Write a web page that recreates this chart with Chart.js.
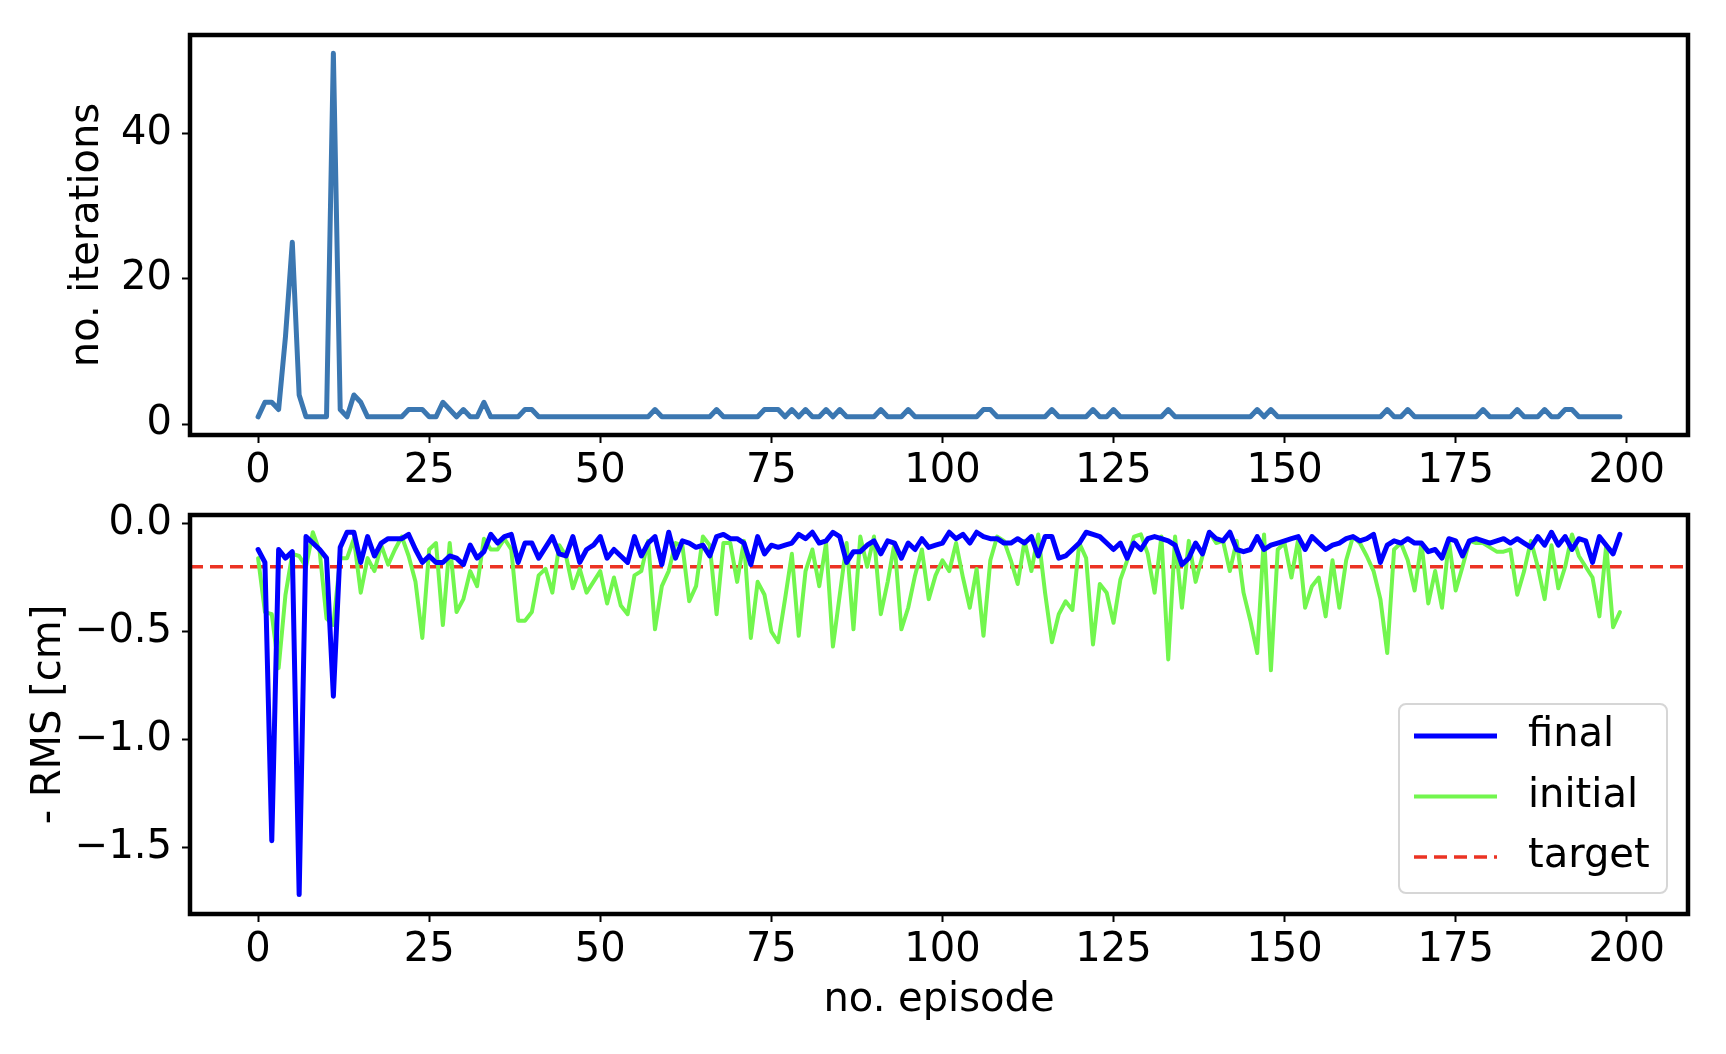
<!DOCTYPE html>
<html>
<head>
<meta charset="utf-8">
<script src="https://cdn.jsdelivr.net/npm/chart.js@4.4.1/dist/chart.umd.min.js"></script>
<style>
  html, body { margin: 0; padding: 0; background: #fff; }
  #wrap { position: relative; width: 1726px; height: 1054px; }
  canvas { position: absolute; left: 0; }
  #topChart { top: 0; }
  #rmsChart { top: 465px; }
</style>
</head>
<body>
<div id="wrap">
  <canvas id="topChart" width="1726" height="495"></canvas>
  <canvas id="rmsChart" width="1726" height="589"></canvas>
</div>
<script>
// episodes 0..199
const episodes = Array.from({ length: 200 }, (_, i) => i);

const iterations = [
  1, 3, 3, 2, 12, 25, 4, 1, 1, 1,
  1, 51, 2, 1, 4, 3, 1, 1, 1, 1,
  1, 1, 2, 2, 2, 1, 1, 3, 2, 1,
  2, 1, 1, 3, 1, 1, 1, 1, 1, 2,
  2, 1, 1, 1, 1, 1, 1, 1, 1, 1,
  1, 1, 1, 1, 1, 1, 1, 1, 2, 1,
  1, 1, 1, 1, 1, 1, 1, 2, 1, 1,
  1, 1, 1, 1, 2, 2, 2, 1, 2, 1,
  2, 1, 1, 2, 1, 2, 1, 1, 1, 1,
  1, 2, 1, 1, 1, 2, 1, 1, 1, 1,
  1, 1, 1, 1, 1, 1, 2, 2, 1, 1,
  1, 1, 1, 1, 1, 1, 2, 1, 1, 1,
  1, 1, 2, 1, 1, 2, 1, 1, 1, 1,
  1, 1, 1, 2, 1, 1, 1, 1, 1, 1,
  1, 1, 1, 1, 1, 1, 2, 1, 2, 1,
  1, 1, 1, 1, 1, 1, 1, 1, 1, 1,
  1, 1, 1, 1, 1, 2, 1, 1, 2, 1,
  1, 1, 1, 1, 1, 1, 1, 1, 1, 2,
  1, 1, 1, 1, 2, 1, 1, 1, 2, 1,
  1, 2, 2, 1, 1, 1, 1, 1, 1, 1
];

const finalRms = [
  -0.12, -0.18, -1.47, -0.12, -0.16, -0.13, -1.72, -0.06, -0.09, -0.12,
  -0.16, -0.80, -0.11, -0.04, -0.04, -0.18, -0.06, -0.15, -0.09, -0.07,
  -0.07, -0.07, -0.05, -0.12, -0.18, -0.15, -0.18, -0.18, -0.15, -0.16,
  -0.19, -0.10, -0.16, -0.13, -0.05, -0.09, -0.06, -0.05, -0.18, -0.09,
  -0.09, -0.16, -0.11, -0.06, -0.14, -0.15, -0.06, -0.18, -0.12, -0.10,
  -0.06, -0.16, -0.12, -0.15, -0.18, -0.06, -0.15, -0.09, -0.06, -0.19,
  -0.04, -0.16, -0.08, -0.09, -0.11, -0.10, -0.15, -0.06, -0.05, -0.07,
  -0.07, -0.09, -0.19, -0.06, -0.14, -0.10, -0.11, -0.10, -0.09, -0.05,
  -0.07, -0.04, -0.09, -0.08, -0.04, -0.06, -0.18, -0.13, -0.13, -0.10,
  -0.08, -0.14, -0.08, -0.09, -0.16, -0.09, -0.12, -0.07, -0.11, -0.10,
  -0.09, -0.04, -0.07, -0.05, -0.09, -0.04, -0.06, -0.07, -0.07, -0.09,
  -0.09, -0.07, -0.09, -0.06, -0.15, -0.06, -0.06, -0.16, -0.15, -0.12,
  -0.09, -0.04, -0.05, -0.06, -0.09, -0.12, -0.09, -0.16, -0.09, -0.12,
  -0.07, -0.06, -0.07, -0.08, -0.10, -0.19, -0.16, -0.09, -0.14, -0.04,
  -0.07, -0.08, -0.04, -0.12, -0.13, -0.12, -0.06, -0.12, -0.10, -0.09,
  -0.08, -0.07, -0.06, -0.12, -0.06, -0.09, -0.12, -0.10, -0.09, -0.07,
  -0.06, -0.08, -0.07, -0.05, -0.18, -0.10, -0.08, -0.09, -0.07, -0.09,
  -0.09, -0.13, -0.12, -0.16, -0.07, -0.08, -0.15, -0.08, -0.07, -0.08,
  -0.09, -0.08, -0.07, -0.09, -0.07, -0.09, -0.11, -0.06, -0.10, -0.04,
  -0.10, -0.06, -0.12, -0.07, -0.08, -0.18, -0.06, -0.10, -0.14, -0.05
];

const initialRms = [
  -0.16, -0.41, -0.42, -0.67, -0.33, -0.14, -0.15, -0.20, -0.04, -0.13,
  -0.44, -0.47, -0.16, -0.16, -0.07, -0.32, -0.16, -0.22, -0.10, -0.19,
  -0.12, -0.06, -0.15, -0.27, -0.53, -0.12, -0.09, -0.47, -0.09, -0.41,
  -0.35, -0.22, -0.29, -0.07, -0.12, -0.12, -0.07, -0.12, -0.45, -0.45,
  -0.41, -0.24, -0.21, -0.32, -0.10, -0.15, -0.30, -0.21, -0.32, -0.27,
  -0.22, -0.37, -0.25, -0.38, -0.42, -0.24, -0.22, -0.08, -0.49, -0.29,
  -0.22, -0.09, -0.10, -0.36, -0.29, -0.06, -0.10, -0.42, -0.09, -0.09,
  -0.27, -0.08, -0.53, -0.27, -0.33, -0.50, -0.55, -0.35, -0.14, -0.52,
  -0.22, -0.12, -0.29, -0.09, -0.57, -0.33, -0.09, -0.49, -0.06, -0.20,
  -0.06, -0.42, -0.27, -0.09, -0.49, -0.39, -0.24, -0.12, -0.35, -0.24,
  -0.17, -0.22, -0.09, -0.25, -0.39, -0.21, -0.52, -0.17, -0.06, -0.08,
  -0.17, -0.28, -0.08, -0.22, -0.05, -0.32, -0.55, -0.42, -0.36, -0.40,
  -0.09, -0.16, -0.56, -0.28, -0.32, -0.46, -0.26, -0.17, -0.06, -0.05,
  -0.14, -0.32, -0.06, -0.63, -0.06, -0.39, -0.08, -0.27, -0.15, -0.04,
  -0.09, -0.08, -0.22, -0.08, -0.32, -0.45, -0.60, -0.05, -0.68, -0.12,
  -0.09, -0.25, -0.07, -0.39, -0.29, -0.25, -0.43, -0.17, -0.39, -0.17,
  -0.06, -0.09, -0.15, -0.22, -0.35, -0.60, -0.12, -0.09, -0.17, -0.31,
  -0.09, -0.37, -0.22, -0.39, -0.08, -0.31, -0.20, -0.08, -0.09, -0.09,
  -0.11, -0.13, -0.13, -0.12, -0.33, -0.22, -0.08, -0.20, -0.35, -0.10,
  -0.30, -0.20, -0.05, -0.15, -0.20, -0.25, -0.43, -0.10, -0.48, -0.41
];

const targetRms = -0.2;
const xTicks = [0, 25, 50, 75, 100, 125, 150, 175, 200];
const iterTicks = [0, 20, 40];
const rmsTicks = [0, -0.5, -1.0, -1.5];
const legendLabels = ["final", "initial", "target"];

const FONT = { family: "'DejaVu Sans', sans-serif", size: 40 };

function points(ys) {
  return episodes.map((e, i) => ({ x: e, y: ys[i] }));
}

function fmtRms(v) {
  if (Math.abs(v) < 1e-9) return "0.0";
  return v.toFixed(1).replace("-", "\u2212");
}

// black frame around the plot area (matplotlib spines)
const frame = {
  id: "frame",
  afterDatasetsDraw(chart) {
    const a = chart.chartArea, ctx = chart.ctx;
    ctx.save();
    ctx.strokeStyle = "#000";
    ctx.lineWidth = 4.5;
    ctx.strokeRect(a.left, a.top, a.right - a.left, a.bottom - a.top);
    ctx.restore();
  }
};

// legend box in lower right corner of the RMS plot
const boxLegend = {
  id: "boxLegend",
  afterDraw(chart) {
    const a = chart.chartArea, ctx = chart.ctx;
    const w = 268, h = 189;
    const x0 = a.right - 21 - w, y0 = a.bottom - 21 - h;
    ctx.save();
    ctx.beginPath();
    ctx.roundRect(x0, y0, w, h, 7);
    ctx.fillStyle = "rgba(255,255,255,0.8)";
    ctx.fill();
    ctx.strokeStyle = "#d6d6d6";
    ctx.lineWidth = 2;
    ctx.stroke();
    ctx.font = FONT.size + "px " + FONT.family;
    ctx.textBaseline = "middle";
    chart.data.datasets.forEach((ds, i) => {
      const y = y0 + 32 + i * 60.5;
      ctx.beginPath();
      ctx.strokeStyle = ds.borderColor;
      ctx.lineWidth = ds.borderWidth;
      ctx.setLineDash(ds.borderDash || []);
      ctx.moveTo(x0 + 15, y);
      ctx.lineTo(x0 + 98, y);
      ctx.stroke();
      ctx.setLineDash([]);
      ctx.fillStyle = "#000";
      ctx.fillText(ds.label, x0 + 129, y);
    });
    ctx.restore();
  }
};

function xScale(height, title) {
  return {
    type: "linear",
    min: -9.95,
    max: 208.95,
    afterBuildTicks: s => { s.ticks = xTicks.map(v => ({ value: v })); },
    afterFit: s => { s.height = height; },
    ticks: { font: FONT, color: "#000", padding: 5, maxRotation: 0, autoSkip: false },
    grid: { drawOnChartArea: false, drawTicks: true, tickLength: 8, tickWidth: 2, tickColor: "#000" },
    border: { display: false },
    title: title
  };
}

new Chart(document.getElementById("topChart"), {
  type: "line",
  data: {
    datasets: [{
      data: points(iterations),
      borderColor: "#3b77b1",
      borderWidth: 5,
      pointRadius: 0,
      borderJoinStyle: "round",
      borderCapStyle: "round",
      tension: 0
    }]
  },
  options: {
    responsive: false,
    animation: false,
    events: [],
    layout: { padding: { left: 0, right: 38, top: 35, bottom: 0 } },
    plugins: { legend: { display: false }, tooltip: { enabled: false } },
    scales: {
      x: xScale(60, { display: false }),
      y: {
        type: "linear",
        min: -1.5,
        max: 53.5,
        afterBuildTicks: s => { s.ticks = iterTicks.map(v => ({ value: v })); },
        afterFit: s => { s.width = 190; },
        ticks: { font: FONT, color: "#000", padding: 10 },
        grid: { drawOnChartArea: false, drawTicks: true, tickLength: 8, tickWidth: 2, tickColor: "#000" },
        border: { display: false },
        title: { display: true, text: "no. iterations", font: FONT, color: "#000", padding: { top: 64, bottom: 0 } }
      }
    }
  },
  plugins: [frame]
});

new Chart(document.getElementById("rmsChart"), {
  type: "line",
  data: {
    datasets: [
      {
        label: legendLabels[0],
        data: points(finalRms),
        borderColor: "#0000ff",
        borderWidth: 5,
        pointRadius: 0,
        borderJoinStyle: "round",
        borderCapStyle: "round",
        tension: 0
      },
      {
        label: legendLabels[1],
        data: points(initialRms),
        borderColor: "#72f64e",
        borderWidth: 4,
        pointRadius: 0,
        borderJoinStyle: "round",
        borderCapStyle: "round",
        tension: 0
      },
      {
        label: legendLabels[2],
        data: [{ x: -9.95, y: targetRms }, { x: 208.95, y: targetRms }],
        borderColor: "#eb3323",
        borderWidth: 3.5,
        borderDash: [13, 7],
        pointRadius: 0,
        tension: 0
      }
    ]
  },
  options: {
    responsive: false,
    animation: false,
    events: [],
    layout: { padding: { left: 0, right: 38, top: 50, bottom: 20 } },
    plugins: { legend: { display: false }, tooltip: { enabled: false } },
    scales: {
      x: xScale(120, { display: true, text: "no. episode", font: FONT, color: "#000", padding: { top: 0, bottom: 9 } }),
      y: {
        type: "linear",
        min: -1.81,
        max: 0.04,
        afterBuildTicks: s => { s.ticks = rmsTicks.map(v => ({ value: v })); },
        afterFit: s => { s.width = 190; },
        ticks: { font: FONT, color: "#000", padding: 10, callback: v => fmtRms(v) },
        grid: { drawOnChartArea: false, drawTicks: true, tickLength: 8, tickWidth: 2, tickColor: "#000" },
        border: { display: false },
        title: { display: true, text: "- RMS [cm]", font: FONT, color: "#000", padding: { top: 26, bottom: 0 } }
      }
    }
  },
  plugins: [frame, boxLegend]
});
</script>
</body>
</html>
